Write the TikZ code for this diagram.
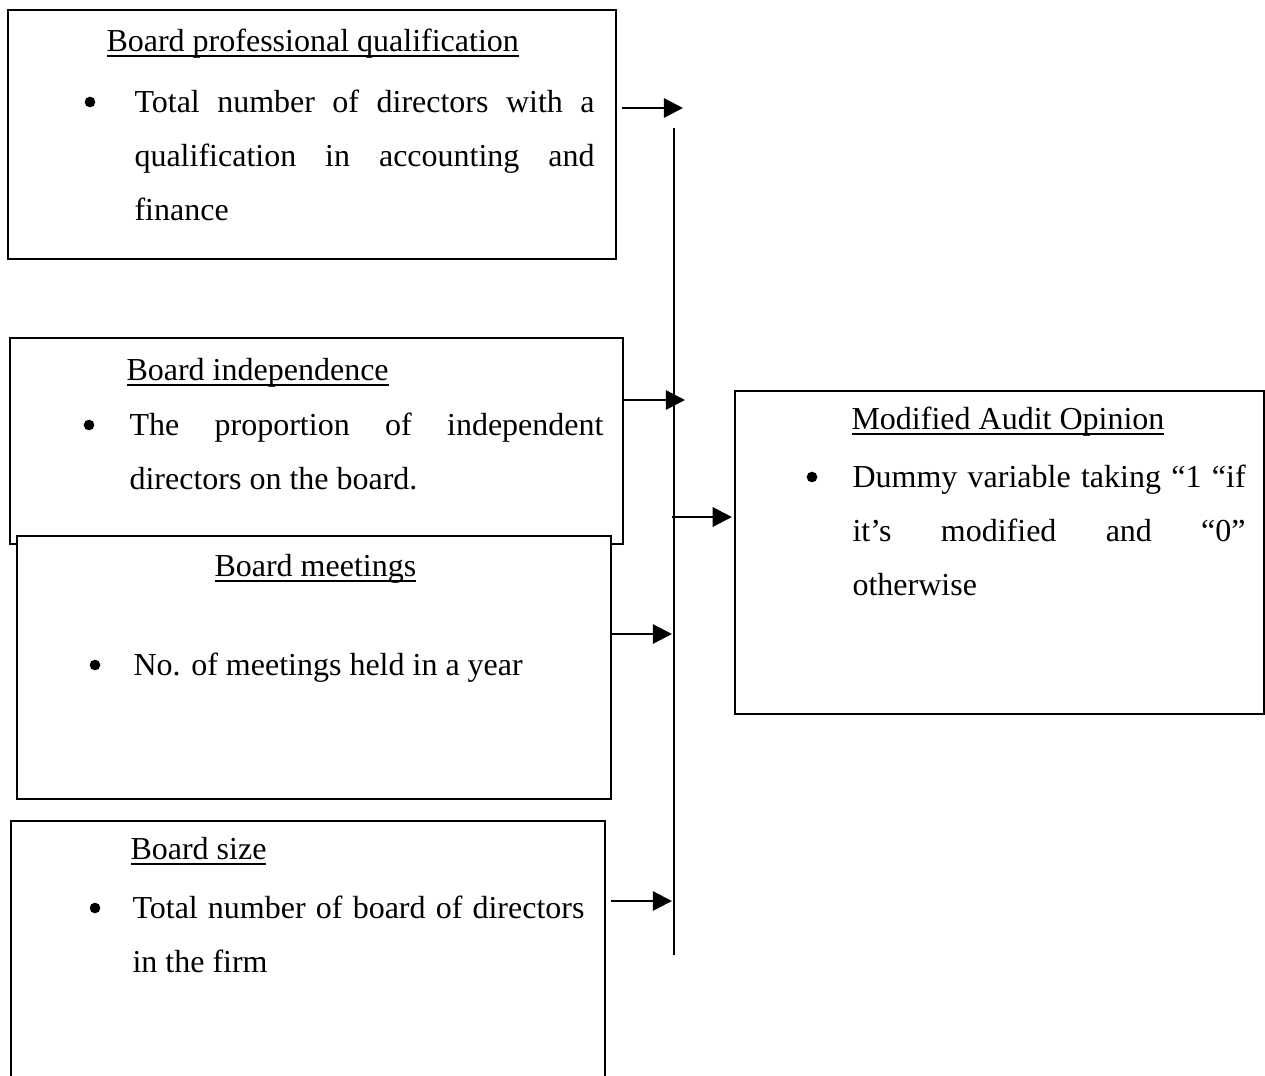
\documentclass[tikz,border=0pt]{standalone}
\usepackage{fontspec}
\setmainfont{Liberation Serif}
\usetikzlibrary{arrows.meta,fit}
\hyphenpenalty=10000
% underlined heading, rule close under the baseline
\newcommand{\undl}[1]{\setbox0\hbox{#1}\rlap{\rule[-2.2pt]{\wd0}{0.75pt}}\box0}

\begin{document}
\begin{tikzpicture}[x=0.375pt,y=-0.375pt,>={Triangle[length=7.2pt,width=7.2pt]},
  every node/.append style={font=\fontsize{12}{20.4}\selectfont},
  panel/.style={draw,line width=0.8pt,fill=white,inner sep=0pt},
  heading/.style={anchor=base west,inner sep=0pt},
  item/.style={anchor=base west,inner sep=0pt,align=justify},
  dot/.style={circle,fill,inner sep=0pt,minimum size=4pt},
  link/.style={->,line width=0.9pt}]
  \useasboundingbox (0,0) rectangle (1265,1075);
  \clip (0,0) rectangle (1265,1075);

  % Kasser til venstre (bestyrelsesvariabler)
  \node[panel,fit={(8,10) (616,259)}] (prof) {};
  \node[panel,fit={(10,338) (623,544)}] (indep) {};
  \node[panel,fit={(17,536) (611,799)}] (meet) {};
  \node[panel,fit={(11,821) (605,1110)}] (size) {};
  % Kasse til hoejre (afhaengig variabel)
  \node[panel,fit={(735,391) (1264,714)}] (opinion) {};

  % Tekst i kasserne
  \node[heading] (prof-head) at (106,51) {\undl{Board professional qualification}};
  \node[dot] (prof-dot) at (90,102) {};
  \node[item,text width=172.5pt] (prof-txt) at (134,112)
    {Total number of directors with a\linebreak qualification in accounting and\linebreak finance};

  \node[heading] (indep-head) at (126,380) {\undl{Board independence}};
  \node[dot] (indep-dot) at (89,425) {};
  \node[item,text width=177.75pt] (indep-txt) at (129,435)
    {The proportion of independent\linebreak directors on the board.};

  \node[heading] (meet-head) at (214,576) {\undl{Board meetings}};
  \node[dot] (meet-dot) at (95,665) {};
  \node[heading] (meet-txt) at (133,675) {No. of meetings held in a year};

  \node[heading] (size-head) at (130,859) {\undl{Board size}};
  \node[dot] (size-dot) at (95,908) {};
  \node[item,text width=169.5pt] (size-txt) at (132,918)
    {Total number of board of directors\linebreak in the firm};

  \node[heading] (opinion-head) at (851,429) {\undl{Modified Audit Opinion}};
  \node[dot] (opinion-dot) at (812,477) {};
  \node[item,text width=147.4pt] (opinion-txt) at (852,487)
    {Dummy variable taking “1 “if\linebreak it’s modified and “0”\linebreak otherwise};

  % Lodret samlelinje
  \coordinate (spine-top) at (674,128);
  \coordinate (spine-bot) at (674,955);
  \draw[line width=0.8pt] (spine-top) -- (spine-bot);

  % Pile ind mod samlelinjen
  \coordinate (e1) at (683,108);
  \coordinate (e2) at (685,400);
  \coordinate (e4) at (672,634);
  \coordinate (e5) at (672,901);
  \draw[link,shorten <=1.9pt] (e1 -| prof.east) -- (e1);
  \draw[link] (e2 -| indep.east) -- (e2);
  \draw[link] (e4 -| meet.east) -- (e4);
  \draw[link,shorten <=1.9pt] (e5 -| size.east) -- (e5);
  % Pil fra samlelinjen til afhaengig variabel
  \coordinate (s3) at (672,517);
  \draw[link,shorten >=0.75pt] (s3) -- (s3 -| opinion.west);
\end{tikzpicture}
\end{document}
